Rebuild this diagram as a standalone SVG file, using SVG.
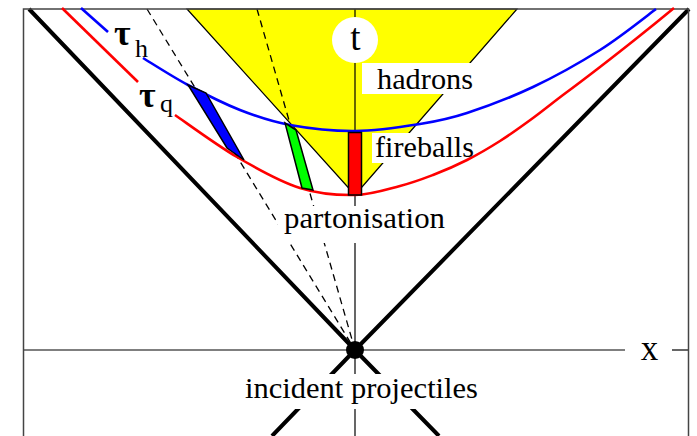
<svg xmlns="http://www.w3.org/2000/svg" width="697" height="436" viewBox="0 0 697 436">
<style>
.thin{stroke:#000;stroke-width:1.2;fill:none}
.dash{stroke:#000;stroke-width:1.3;fill:none;stroke-dasharray:7 5}
.cone{stroke:#000;stroke-width:4;fill:none}
.curve{stroke-width:2.6;fill:none}
.box{fill:#fff;stroke:none}
.lbl{font-family:"Liberation Serif","Times New Roman",serif;font-size:30px;fill:#000}
.cell{stroke:#000;stroke-width:1.5}
</style>
<rect width="697" height="436" fill="#fff"/>
<g id="hadron-zone">
<polygon points="187,9 517,9 355,195" fill="#ffff00" stroke="#000" stroke-width="1.2"/>
</g>
<g id="connectors">
<line class="thin" x1="355" y1="9" x2="355" y2="436"/>
<line class="thin" x1="23.5" y1="350" x2="625" y2="350"/>
<line class="thin" x1="672" y1="350" x2="688.5" y2="350"/>
<line class="dash" x1="147" y1="9" x2="355" y2="350"/>
<line class="dash" x1="257" y1="9" x2="355" y2="350"/>
<polyline class="cone" points="29,9 355,350 439,436"/>
<polyline class="cone" points="689,9 355,350 272,436"/>
</g>
<g id="frame">
<polyline points="23.5,436 23.5,9 688.5,9 688.5,436" fill="none" stroke="#444" stroke-width="1.5"/>
</g>
<rect class="box" x="278" y="206" width="174" height="37"/>
<rect class="box" x="240" y="374" width="242" height="35"/>
<rect class="box" x="362" y="63" width="113" height="31"/>
<rect class="box" x="372" y="133" width="104" height="30"/>
<g id="tau-h-curve">
<path class="curve" stroke="#0000ff" d="M81,8 L108,32"/>
<path class="curve" stroke="#0000ff" d="M143,58 C150.5,62.5 171.8,76.3 188,85 C204.2,93.7 223,103.3 240,110 C257,116.7 270.8,121.5 290,125 C309.2,128.5 333.3,131.2 355,131 C376.7,130.8 401.3,127 420,124 C438.7,121 448.2,119.2 467,113 C485.8,106.8 510.8,97.5 533,87 C555.2,76.5 579.7,62.8 600,50 C620.3,37.2 645.8,16.7 656,9"/>
</g>
<g id="tau-q-curve">
<path class="curve" stroke="#ff0000" d="M62,8 L138,82"/>
<path class="curve" stroke="#ff0000" d="M175,115 C185.3,122 216.2,144.8 237,157 C257.8,169.2 280.3,181.7 300,188 C319.7,194.3 338.3,195.3 355,195 C371.7,194.7 387,189.3 400,186 C413,182.7 421.8,179.3 433,175 C444.2,170.7 455.8,165.7 467,160 C478.2,154.3 489,148 500,141 C511,134 521.8,126.2 533,118 C544.2,109.8 555.8,100.2 567,92 C578.2,83.8 588.3,76 600,67 C611.7,58 624.8,47.7 637,38 C649.2,28.3 667,13.8 674,8"/>
</g>
<g id="blue-cell"><polygon class="cell" points="188,85 206,93 244,160 227,148" fill="#0000ff"/></g>
<g id="green-cell"><polygon class="cell" points="285,123 296,130 313,190 302,188" fill="#00ff00"/></g>
<g id="red-cell"><rect class="cell" x="348.5" y="132.5" width="13" height="62.5" fill="#ff0000"/></g>
<g id="t-label">
<circle cx="355" cy="40" r="23" fill="#fff"/>
<text x="355.5" y="50" text-anchor="middle" class="lbl" style="font-size:37px">t</text>
</g>
<g id="x-label"><text x="649.5" y="360" text-anchor="middle" class="lbl" style="font-size:35px">x</text></g>
<g id="hadrons-label"><text x="377" y="89" class="lbl" textLength="96" lengthAdjust="spacingAndGlyphs">hadrons</text></g>
<g id="fireballs-label"><text x="375" y="157" class="lbl" textLength="99" lengthAdjust="spacingAndGlyphs">fireballs</text></g>
<g id="partonisation-label"><text x="284" y="228" class="lbl" textLength="161" lengthAdjust="spacingAndGlyphs">partonisation</text></g>
<g id="incident-label"><text x="245" y="398" class="lbl" textLength="233" lengthAdjust="spacingAndGlyphs">incident projectiles</text></g>
<g id="tau-h-label"><text x="114" y="45" class="lbl" style="font-size:36px;font-weight:bold">τ</text><text x="135" y="57" class="lbl" style="font-size:26px">h</text></g>
<g id="tau-q-label"><text x="139" y="107" class="lbl" style="font-size:36px;font-weight:bold">τ</text><text x="160" y="112" class="lbl" style="font-size:26px">q</text></g>
<g id="origin"><circle cx="355" cy="350" r="9" fill="#000"/></g>
</svg>
